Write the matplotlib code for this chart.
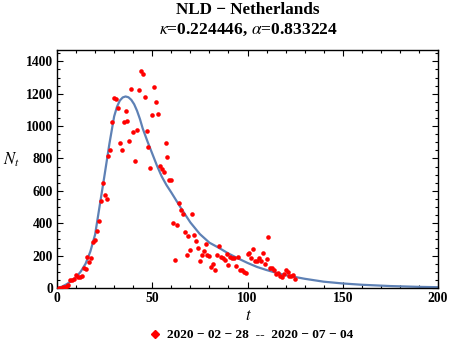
import numpy as np
import matplotlib
matplotlib.use('Agg')
import matplotlib.pyplot as plt
from matplotlib.ticker import MultipleLocator
from matplotlib.lines import Line2D

plt.rcParams['font.family'] = 'Liberation Serif'
plt.rcParams['mathtext.fontset'] = 'stix'

# daily counts
days = list(range(1, 126))
cases = [1, 2, 5, 6, 10, 19, 48, 52, 56, 80,
         68, 68, 72, 122, 118, 192, 163, 184, 287, 296,
         353, 415, 539, 646, 576, 551, 818, 855, 1024, 1175,
         1167, 1111, 894, 853, 1024, 1092, 1030, 910, 1229, 962,
         782, 973, 1225, 1340, 1320, 1179, 968, 873, 741, 1068,
         1241, 1148, 1074, 756, 733, 714, 894, 812, 667, 667,
         403, 175, 392, 522, 481, 454, 343, 206, 324, 237,
         460, 326, 291, 250, 167, 203, 231, 274, 206, 196,
         132, 151, 112, 204, 262, 192, 184, 175, 213, 141,
         192, 184, 188, 138, 192, 110, 110, 101, 95, 213,
         219, 188, 242, 167, 167, 188, 167, 219, 151, 180,
         312, 126, 122, 113, 85, 93, 72, 68, 89, 113,
         97, 72, 76, 80, 56]

# fitted curve
fit_t = [0, 2.5, 5, 7.5, 10, 12.5, 15, 17.5, 20, 22.5, 25, 27.5, 30, 31.5, 33,
         34.5, 36, 37.5, 39, 40.5, 42, 43.5, 45, 47.5, 50, 52.5, 55, 57.5, 60,
         65, 70, 75, 80, 85, 90, 95, 100, 105, 110, 115, 120, 130, 140, 150,
         160, 175, 190, 200]
fit_n = [0, 8, 23, 42, 66, 102, 150, 225, 330, 515, 700, 890, 1060, 1120, 1158,
         1177, 1183, 1178, 1162, 1135, 1095, 1045, 985, 905, 830, 755, 688, 635, 590,
         495, 405, 333, 280, 248, 213, 183, 155, 130, 111, 94, 79, 57, 39, 28,
         20, 12, 7, 5]

title1 = 'NLD \u2212 Netherlands'
title2 = r'$\kappa$=0.224446, $\alpha$=0.833224'
legend_label = '2020 \u2212 02 \u2212 28  --  2020 \u2212 07 \u2212 04'

fig = plt.figure(figsize=(4.5, 3.43), dpi=100)
ax = fig.add_axes([57/450, 1-288/343, 381/450, 238/343])

ax.plot(fit_t, fit_n, color='#5E81B5', lw=1.6, zorder=2)
ax.plot(days, cases, 'o', color='#FF0000', ms=3.3, mec='none', zorder=3)

ax.set_xlim(0, 200)
ax.set_ylim(0, 1470)
ax.xaxis.set_major_locator(MultipleLocator(50))
ax.xaxis.set_minor_locator(MultipleLocator(10))
ax.yaxis.set_major_locator(MultipleLocator(200))
ax.yaxis.set_minor_locator(MultipleLocator(50))
ax.tick_params(which='both', direction='in', top=True, right=True, width=0.8)
ax.tick_params(which='major', length=4, labelsize=9.8, pad=3)
ax.tick_params(which='minor', length=2)
for lab in ax.get_xticklabels() + ax.get_yticklabels():
    lab.set_fontweight('bold')
for s in ax.spines.values():
    s.set_linewidth(1.0)

fig.text(248/450, 1-10/343, title1, ha='center', va='center', fontsize=12.3, fontweight='bold')
fig.text(248/450, 1-30/343, title2, ha='center', va='center', fontsize=12.6, fontweight='bold')
fig.text(248/450, 1-316/343, r'$t$', ha='center', va='center', fontsize=12)
fig.text(11/450, 1-160/343, r'$N_t$', ha='center', va='center', fontsize=12)

h = Line2D([], [], marker='D', color='#FF0000', ls='none', ms=4.5)
fig.legend([h], [legend_label], loc='center', bbox_to_anchor=(251/450, 1-335/343),
           frameon=False, handletextpad=0.4, prop={'weight': 'bold', 'size': 9.6},
           handlelength=1, borderpad=0)

fig.savefig('out.png', dpi=100)
